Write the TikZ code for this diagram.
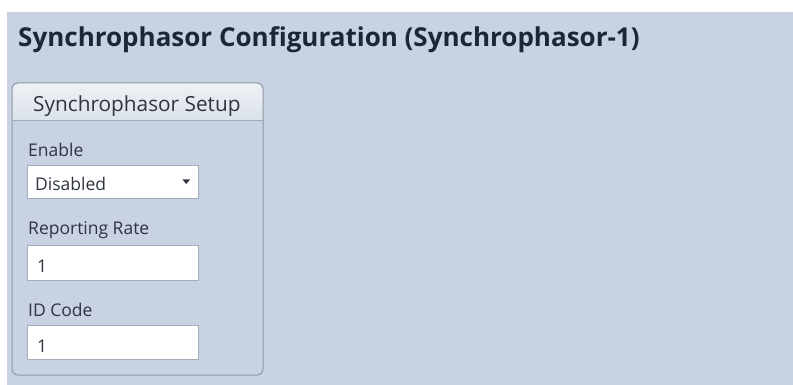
\documentclass[tikz,border=0pt]{standalone}
\usepackage{fontspec}
\setmainfont{Open Sans}
\usetikzlibrary{calc}
\definecolor{pagebg}{HTML}{C8D2E2}
\definecolor{titleink}{HTML}{1C2636}
\definecolor{labelink}{HTML}{2E3440}
\definecolor{panelrule}{HTML}{8E98A6}
\definecolor{fieldrule}{HTML}{A3ADBB}
\definecolor{headtop}{HTML}{EEF1F5}
\definecolor{headbot}{HTML}{DCE2EA}
\tikzset{
  label text/.style={anchor=base west, inner sep=0pt, text=labelink, font=\fontsize{17.5}{21}\selectfont},
  field/.style={draw=fieldrule, line width=1pt, fill=white},
  field text/.style={anchor=base west, inner sep=0pt, text=labelink, font=\fontsize{17.5}{21}\selectfont},
}
\begin{document}
\begin{tikzpicture}[x=1pt,y=-1pt]
  % canvas
  \fill[white] (0,0) rectangle (793,385);
  \useasboundingbox (0,0) rectangle (793,385);
  \fill[pagebg] (7,12) rectangle (793,385);

  % page heading
  \node[anchor=base west, inner sep=0pt, text=titleink,
        font=\fontsize{26}{30}\bfseries\selectfont] (title) at (18,47)
        {Synchrophasor Configuration (Synchrophasor-1)};

  % setup panel with a lighter header strip
  \begin{scope}
    \clip[rounded corners=6pt] (12,83) rectangle (263,375);
    \shade[top color=headtop, bottom color=headbot] (12,83) rectangle (263,120);
  \end{scope}
  \draw[panelrule, line width=1pt, rounded corners=6pt] (12,83) rectangle (263,375);
  \draw[fieldrule!80!panelrule, line width=1pt] (12.5,120.5) -- (262.5,120.5);
  \node[anchor=base west, inner sep=0pt, text=labelink,
        font=\fontsize{20.8}{24}\selectfont] (head) at (33,112) {Synchrophasor Setup};

  % Enable drop-down
  \node[label text] (enlabel) at (28,157) {Enable};
  \draw[field] (27.5,165.5) rectangle (198,199);
  \node[field text] (enval) at (35,190) {Disabled};
  \fill[labelink] (182.5,179.5) -- (190,179.5) -- (186.25,184) -- cycle;

  % Reporting Rate entry
  \node[label text] (rrlabel) at (28,234) {Reporting Rate};
  \draw[field] (27.5,245.5) rectangle (198,280);
  \node[field text] (rrval) at (37,272) {1};

  % ID Code entry
  \node[label text] (idlabel) at (28,316) {ID Code};
  \draw[field] (27.5,325.5) rectangle (198,359);
  \node[field text] (idval) at (37,352) {1};
\end{tikzpicture}
\end{document}
